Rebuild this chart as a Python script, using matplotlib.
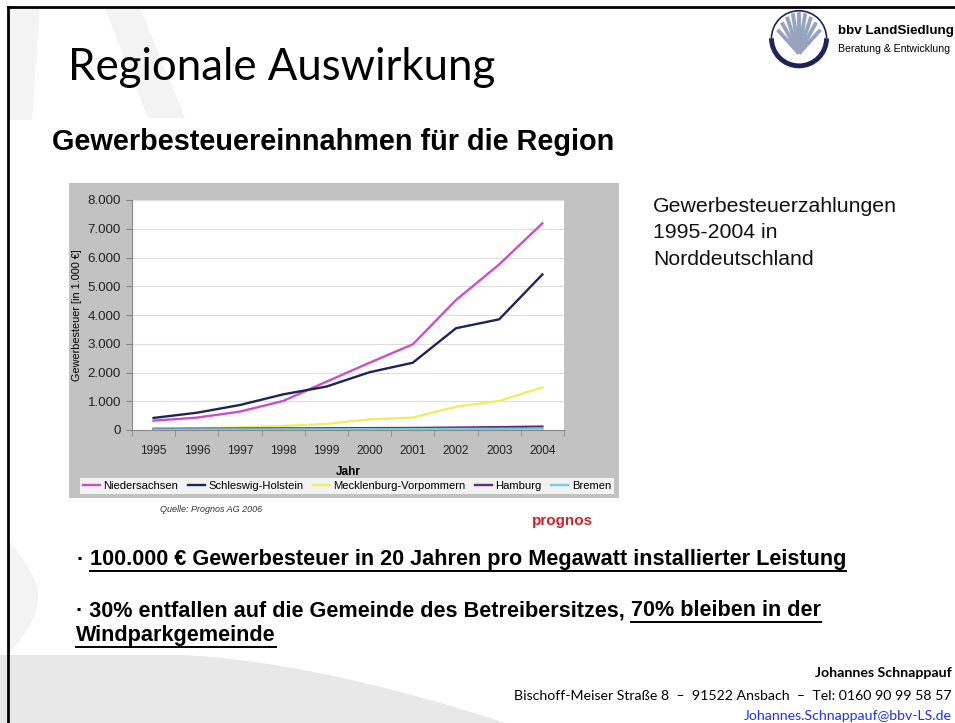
import matplotlib.pyplot as plt
import matplotlib.patches as mpatches
import numpy as np

W, H = 955, 723

years = [1995, 1996, 1997, 1998, 1999, 2000, 2001, 2002, 2003, 2004]
niedersachsen = [325, 430, 640, 1010, 1680, 2340, 2980, 4520, 5760, 7190]
schleswig_holstein = [420, 600, 870, 1240, 1510, 2010, 2340, 3540, 3850, 5410]
meck_pomm = [20, 60, 90, 140, 210, 370, 430, 810, 1010, 1480]
hamburg = [40, 45, 50, 55, 60, 65, 70, 85, 100, 120]
bremen = [15, 18, 20, 22, 25, 28, 30, 35, 40, 45]

series = [
    ("Niedersachsen", niedersachsen, "#cc4fc6"),
    ("Schleswig-Holstein", schleswig_holstein, "#1d2456"),
    ("Mecklenburg-Vorpommern", meck_pomm, "#eeee66"),
    ("Hamburg", hamburg, "#6a2a78"),
    ("Bremen", bremen, "#6fd0e0"),
]
y_ticks = [0, 1000, 2000, 3000, 4000, 5000, 6000, 7000, 8000]


def fx(x):
    return x / W


def fy(y):
    return 1 - y / H


def box(x0, y0, x1, y1):
    return [fx(x0), fy(y1), fx(x1) - fx(x0), fy(y0) - fy(y1)]


def add_poly(pts, color, z=-2):
    fig.patches.append(mpatches.Polygon([(fx(a), fy(b)) for a, b in pts], closed=True,
                                        transform=fig.transFigure, color=color, lw=0, zorder=z))


fig = plt.figure(figsize=(W / 100, H / 100), dpi=100)
fig.patch.set_facecolor("white")

# faint background swooshes
bg = "#f3f3f3"
add_poly([(10, 8), (40, 8), (32, 120), (10, 120)], bg)
add_poly([(105, 8), (140, 8), (185, 118), (148, 118)], bg)
t = np.linspace(0, 1, 40)
add_poly([(0, 655)] + [(175 + 330 * s, 655 + 68 * s ** 1.6) for s in t] + [(0, 723)], "#e8e8e8")
add_poly([(8, 540)] + [(8 + 30 * np.sin(np.pi * s), 540 + 115 * s) for s in t], bg)

# slide frame
fig.lines.append(plt.Line2D([fx(8), fx(8)], [fy(7), fy(723)], transform=fig.transFigure, color="black", lw=2))
fig.lines.append(plt.Line2D([fx(8), fx(955)], [fy(7), fy(7)], transform=fig.transFigure, color="black", lw=2))

# headings
fig.text(fx(68), fy(68), "Regionale Auswirkung", fontsize=31.5, family="Lato", va="center", ha="left")
fig.text(fx(52), fy(142), "Gewerbesteuereinnahmen für die Region", fontsize=20.8, weight="bold",
         family="Liberation Sans", va="center", ha="left")
for i, line in enumerate(["Gewerbesteuerzahlungen", "1995-2004 in", "Norddeutschland"]):
    fig.text(fx(653), fy(207 + 26 * i), line, fontsize=15.3, family="Liberation Sans", va="center",
             ha="left", color="#111111")

# logo
lax = fig.add_axes(box(764, 8, 834, 70))
lax.set_xlim(-1.25, 1.25)
lax.set_ylim(-1.15, 1.1)
lax.set_aspect("equal")
lax.axis("off")
lax.add_patch(mpatches.Arc((0, 0), 2, 2, theta1=180, theta2=360, color="#1d2456", lw=3.5))
lax.add_patch(mpatches.Arc((0, 0), 2, 2, theta1=0, theta2=180, color="#1d2456", lw=1.2))
for ang in np.linspace(35, 145, 9):
    a = np.radians(ang)
    lax.plot([0, 0.95 * np.cos(a)], [-0.55, -0.55 + 1.5 * np.sin(a)], color="#97a3bf", lw=2.8,
             solid_capstyle="butt")
fig.text(fx(838), fy(31), "bbv LandSiedlung", fontsize=9.6, weight="bold", family="Liberation Sans",
         va="center", ha="left")
fig.text(fx(838), fy(49), "Beratung & Entwicklung", fontsize=7.6, family="Liberation Sans",
         va="center", ha="left")

# grey chart panel
fig.patches.append(mpatches.Rectangle((fx(69), fy(498)), fx(619) - fx(69), fy(183) - fy(498),
                                      transform=fig.transFigure, color="#c2c2c2", lw=0, zorder=-1))

ax = fig.add_axes(box(132, 200, 564, 430))
ax.set_facecolor("white")
for name, vals, col in series:
    ax.plot(years, vals, color=col, lw=1.7, label=name)
ax.set_xlim(1994.5, 2004.5)
ax.set_ylim(0, 8000)
ax.set_yticks(y_ticks)
ax.set_yticklabels([f"{v:,}".replace(",", ".") for v in y_ticks])
ax.set_xticks(years)
ax.set_xticklabels([str(y) for y in years])
ax.set_xticks(np.arange(1994.5, 2005, 1), minor=True)
ax.tick_params(axis="x", which="major", length=0, pad=11, labelsize=8.6)
ax.tick_params(axis="x", which="minor", length=4, color="#888888")
ax.tick_params(axis="y", length=4, color="#888888", labelsize=9.6, pad=4)
for lab in ax.get_xticklabels() + ax.get_yticklabels():
    lab.set_family("Liberation Sans")
    lab.set_color("#222222")
ax.grid(axis="y", color="#dddddd", lw=0.8)
ax.set_axisbelow(True)
for s in ["top", "right"]:
    ax.spines[s].set_visible(False)
ax.spines["left"].set_color("#888888")
ax.spines["bottom"].set_color("#888888")
ax.set_xlabel("Jahr", fontsize=8.5, weight="bold", family="Liberation Sans", labelpad=6)
ax.set_ylabel("Gewerbesteuer [in 1.000 €]", fontsize=7.8, family="Liberation Sans", labelpad=4)

handles, labels = ax.get_legend_handles_labels()
leg = fig.legend(handles, labels, loc="center", bbox_to_anchor=(fx(347), fy(486)), ncol=5, frameon=True,
                 fancybox=False, handlelength=1.5, handletextpad=0.3, columnspacing=0.85,
                 prop={"family": "Liberation Sans", "size": 8.15}, borderpad=0.3)
leg.get_frame().set_edgecolor("white")
leg.get_frame().set_linewidth(0)

fig.text(fx(160), fy(510), "Quelle: Prognos AG 2006", fontsize=6.5, style="italic", family="Liberation Sans",
         color="#333333", va="center")
fig.text(fx(532), fy(521), "prognos", fontsize=11, weight="bold", family="Liberation Sans", color="#c0282d",
         va="center")

# bullet points
bfont = "Liberation Sans"
bsize = 15.6
fig.canvas.draw()
renderer = fig.canvas.get_renderer()
fig_w_px = fig.dpi * fig.get_figwidth()


def underline(txt, y):
    bb = txt.get_window_extent(renderer)
    fig.lines.append(plt.Line2D([bb.x0 / fig_w_px, bb.x1 / fig_w_px], [fy(y), fy(y)],
                                transform=fig.transFigure, color="black", lw=1.4))


fig.text(fx(76), fy(560), "·", fontsize=bsize, weight="bold", family=bfont, va="center")
t1 = fig.text(fx(90), fy(560), "100.000 € Gewerbesteuer in 20 Jahren pro Megawatt installierter Leistung",
              fontsize=bsize, weight="bold", family=bfont, va="center")
underline(t1, 571)
t2 = fig.text(fx(76), fy(611), "· 30% entfallen auf die Gemeinde des Betreibersitzes, ", fontsize=bsize,
              weight="bold", family=bfont, va="center")
x_end = t2.get_window_extent(renderer).x1
t3 = fig.text(x_end / fig_w_px, fy(611), "70% bleiben in der", fontsize=bsize,
              weight="bold", family=bfont, va="center")
underline(t3, 622)
t4 = fig.text(fx(76), fy(636), "Windparkgemeinde", fontsize=bsize, weight="bold", family=bfont, va="center")
underline(t4, 647)

# footer
fig.text(fx(952), fy(673), "Johannes Schnappauf", fontsize=10.2, weight="bold", family="Lato",
         va="center", ha="right")
fig.text(fx(952), fy(696), "Bischoff-Meiser Straße 8  –  91522 Ansbach  –  Tel: 0160 90 99 58 57",
         fontsize=10.2, family="Lato", va="center", ha="right")
fig.text(fx(952), fy(716), "Johannes.Schnappauf@bbv-LS.de", fontsize=10.2, family="Lato", color="#2233dd",
         va="center", ha="right")

fig.savefig("out.png", dpi=100)
